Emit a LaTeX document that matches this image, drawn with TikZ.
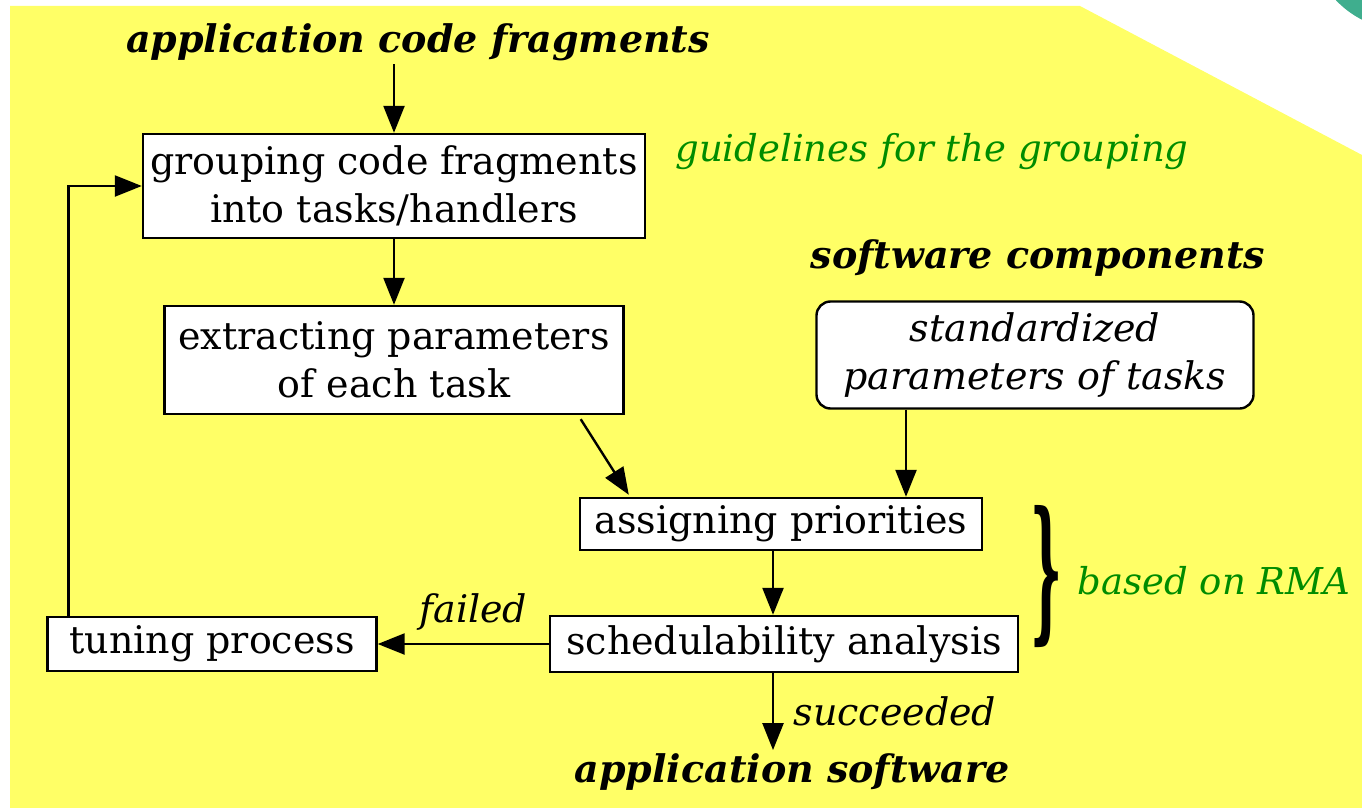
\documentclass[tikz,border=0pt]{standalone}
\usepackage{fontspec}
\setmainfont{DejaVu Serif}
\usepackage{graphicx}
\usetikzlibrary{calc,arrows.meta}
\definecolor{padyel}{HTML}{FFFF66}
\definecolor{notegrn}{HTML}{008C00}
\definecolor{logoteal}{HTML}{3FAE8E}
\tikzset{
  ar/.style={-{Triangle[length=27pt,width=21pt]},line width=2.4pt},
  box/.style={draw,line width=2.4pt,fill=white,align=center,inner sep=0pt,font=\fontsize{38}{48}\selectfont},
  ttl/.style={font=\fontsize{38}{44}\selectfont\bfseries\itshape},
  note/.style={font=\fontsize{37}{44}\selectfont\itshape,text=notegrn},
  lbl/.style={font=\fontsize{38}{44}\selectfont\itshape}
}
\begin{document}
\begin{tikzpicture}[x=1pt,y=-1pt]
\useasboundingbox (0,0) rectangle (1362,808);
\fill[padyel] (10,6) -- (1080,6) -- (1362,155) -- (1362,808) -- (10,808) -- cycle;
\begin{scope}\clip (0,0) rectangle (1362,808);\fill[logoteal] (1405,-65) circle (95);\end{scope}
\node[ttl] (appin) at (418,42) {application code fragments};
\node[box,minimum width=502pt,minimum height=104pt] (grp) at (394,186) {grouping code fragments\\into tasks/handlers};
\node[note] (guide) at (932,152) {guidelines for the grouping};
\node[box,minimum width=459pt,minimum height=108pt] (ext) at (394,360) {extracting parameters\\of each task};
\node[ttl] (swc) at (1038,258) {software components};
\node[box,rounded corners=14pt,minimum width=437pt,minimum height=107pt,font=\fontsize{38}{48}\selectfont\itshape] (std) at (1035,355) {standardized\\parameters of tasks};
\node[box,minimum width=402pt,minimum height=52pt] (asg) at (781,524) {assigning priorities};
\node[box,minimum width=468pt,minimum height=56pt] (sch) at (784,644) {schedulability analysis};
\node[box,minimum width=329pt,minimum height=54pt] (tun) at (212,644) {tuning process};
\node[ttl] (appout) at (792,772) {application software};
\node[inner sep=0pt] (brc) at (1046,577) {\resizebox{32pt}{117pt}{\bfseries\}}};
\node[note] (rma) at (1214,581) {based on RMA};
\coordinate (dn) at (773,0);
\coordinate (sd) at (906,0);
\draw[ar] (appin.south -| grp.north) -- (grp.north);
\draw[ar] (grp.south) -- (ext.north);
\draw[ar] ($(ext.south east)+(-44,4)$) -- ($(asg.north west)+(50,-2)$);
\draw[ar] (std.south -| sd) -- (asg.north -| sd);
\draw[ar] (asg.south -| dn) -- (sch.north -| dn);
\draw[ar] (sch.west) -- (tun.east) node[lbl,midway,above=9pt,xshift=10pt] (fld) {failed};
\draw[ar] ($(tun.north west)+(22,0)$) |- (grp.west);
\draw[ar] (sch.south -| dn) -- (appout.north -| dn) node[lbl,midway,right=16pt] (suc) {succeeded};
\end{tikzpicture}
\end{document}
